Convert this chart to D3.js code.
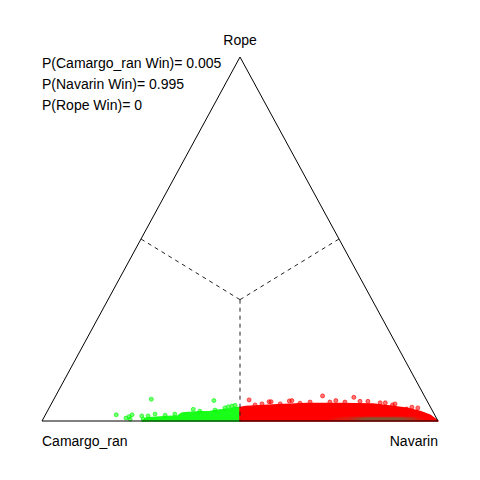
<!DOCTYPE html>
<html>
<head>
<meta charset="utf-8">
<script src="https://cdn.jsdelivr.net/npm/d3@7"></script>
<style>
  body { margin: 0; background: #fff; }
  svg { display: block; font-family: "Liberation Sans", Arial, Helvetica, sans-serif; }
</style>
</head>
<body>
<svg></svg>
<script>
// vertices: left, right, top
var labels = ["Camargo_ran", "Navarin", "Rope"];
var probs = [0.005, 0.995, 0];

// [navarin share, rope share] ; camargo = 1 - nav - rope
var greenCloud = [
  [0.253, 0], [0.259, 0.008], [0.292, 0.011], [0.336, 0.014], [0.343, 0.022],
  [0.374, 0.025], [0.411, 0.026], [0.434, 0.030], [0.458, 0.033], [0.471, 0.037],
  [0.4815, 0.037], [0.5, 0]
];
var redCloud = [
  [0.4815, 0.037], [0.495, 0.040], [0.561, 0.044], [0.645, 0.048], [0.729, 0.048],
  [0.812, 0.047], [0.858, 0.041], [0.904, 0.035], [0.942, 0.026], [0.972, 0.016],
  [1, 0], [0.5, 0]
];
var bandOuter = [
  [0.720, 0.004], [0.760, 0.010], [0.830, 0.012], [0.900, 0.012], [0.935, 0.010],
  [0.958, 0.006], [0.966, 0.002], [0.895, 0.001], [0.800, 0.001], [0.740, 0.002]
];
var bandCore = [
  [0.770, 0.006], [0.820, 0.009], [0.890, 0.009], [0.930, 0.007], [0.945, 0.005],
  [0.900, 0.003], [0.810, 0.003]
];
var greenPts = [
  [0.179, 0.017], [0.208, 0.008], [0.214, 0.012], [0.219, 0.017], [0.220, 0.005],
  [0.245, 0.014], [0.253, 0.005], [0.261, 0.014], [0.246, 0.060], [0.276, 0.019],
  [0.366, 0.032], [0.406, 0.056], [0.451, 0.039], [0.466, 0.043],
  [0.303, 0.016], [0.326, 0.019], [0.385, 0.027], [0.422, 0.030], [0.444, 0.036],
  [0.459, 0.041]
];
var redPts = [
  [0.494, 0.058], [0.547, 0.053], [0.552, 0.053], [0.597, 0.055], [0.603, 0.056],
  [0.674, 0.069], [0.714, 0.056], [0.755, 0.065], [0.829, 0.050], [0.842, 0.050],
  [0.863, 0.044], [0.904, 0.033],
  [0.516, 0.044], [0.532, 0.047], [0.578, 0.047], [0.627, 0.049], [0.651, 0.052],
  [0.701, 0.052], [0.739, 0.052], [0.776, 0.054], [0.796, 0.054], [0.868, 0.047],
  [0.915, 0.038], [0.931, 0.036]
];

var width = 480;
var height = 480;

var svg = d3.select("svg").attr("width", width).attr("height", height);

// horizontal position = nav + rope/2, vertical = rope
var xScale = d3.scaleLinear().domain([0, 1]).range([42, 438]);
var yScale = d3.scaleLinear().domain([0, 1]).range([421, 57]);

var px = function (d) { return xScale(d[0] + d[1] / 2); };
var py = function (d) { return yScale(d[1]); };
var line = d3.line().x(px).y(py);

var defs = svg.append("defs");
defs.append("filter").attr("id", "soft")
  .append("feGaussianBlur").attr("stdDeviation", 1.2);

/* dense clouds */
svg.append("path").attr("d", line(greenCloud) + "Z")
  .attr("fill", "#1aff1a").attr("stroke", "#1aff1a").attr("stroke-width", 1.5)
  .attr("stroke-linejoin", "round");
svg.append("path").attr("d", line(redCloud) + "Z")
  .attr("fill", "#ff0000").attr("stroke", "#ff0000").attr("stroke-width", 1.5)
  .attr("stroke-linejoin", "round");

/* scattered points */
svg.selectAll("circle.g").data(greenPts).enter().append("circle")
  .attr("class", "g")
  .attr("cx", px).attr("cy", py).attr("r", 2)
  .attr("fill", "#00ff00").attr("fill-opacity", 0.55)
  .attr("stroke", "#00ff00").attr("stroke-opacity", 0.8).attr("stroke-width", 0.8);
svg.selectAll("circle.r").data(redPts).enter().append("circle")
  .attr("class", "r")
  .attr("cx", px).attr("cy", py).attr("r", 2)
  .attr("fill", "#ff0000").attr("fill-opacity", 0.55)
  .attr("stroke", "#ff0000").attr("stroke-opacity", 0.8).attr("stroke-width", 0.8);

/* overlap band */
svg.append("path").attr("d", line(bandOuter) + "Z")
  .attr("fill", "#a0522d").attr("opacity", 0.45).attr("filter", "url(#soft)");
svg.append("path").attr("d", line(bandCore) + "Z")
  .attr("fill", "#3f8050").attr("opacity", 0.85).attr("filter", "url(#soft)");

/* triangle */
var corners = [[0, 0], [1, 0], [0, 1]];
svg.append("path").attr("d", line(corners) + "Z")
  .attr("fill", "none").attr("stroke", "#000").attr("stroke-width", 1);

/* region borders */
var centre = [1 / 3, 1 / 3];
var mids = [[0.5, 0], [0, 0.5], [0.5, 0.5]];
mids.forEach(function (m) {
  svg.append("path").attr("d", line([centre, m]))
    .attr("fill", "none").attr("stroke", "#222").attr("stroke-width", 1)
    .attr("stroke-dasharray", "4,4");
});

/* vertex labels */
svg.append("text").attr("x", px(corners[0])).attr("y", 446)
  .attr("font-size", 14).attr("text-anchor", "start").text(labels[0]);
svg.append("text").attr("x", px(corners[1])).attr("y", 446)
  .attr("font-size", 14).attr("text-anchor", "end").text(labels[1]);
svg.append("text").attr("x", px(corners[2])).attr("y", 45)
  .attr("font-size", 14).attr("text-anchor", "middle").text(labels[2]);

/* probabilities */
labels.forEach(function (l, i) {
  svg.append("text").attr("x", 42).attr("y", 68 + i * 21)
    .attr("font-size", 14)
    .text("P(" + l + " Win)= " + probs[i]);
});
</script>
</body>
</html>
